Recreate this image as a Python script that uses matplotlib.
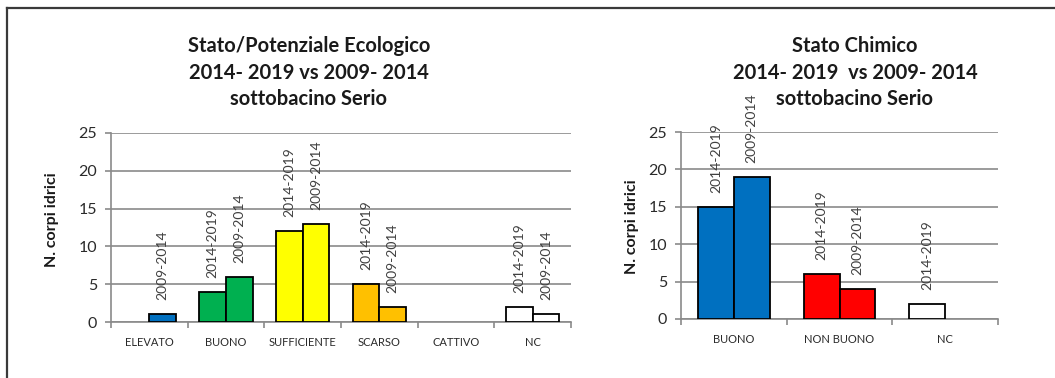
import matplotlib
matplotlib.use("Agg")
import matplotlib.pyplot as plt
from matplotlib.lines import Line2D
import numpy as np

plt.rcParams['font.family'] = ['Lato', 'DejaVu Sans']

# ---- data ----
eco_categories = ["ELEVATO", "BUONO", "SUFFICIENTE", "SCARSO", "CATTIVO", "NC"]
eco_2014_2019 = [0, 4, 12, 5, 0, 2]
eco_2009_2014 = [1, 6, 13, 2, 0, 1]
eco_colors = ["#0070C0", "#00B050", "#FFFF00", "#FFC000", "#FF0000", "#FFFFFF"]

chem_categories = ["BUONO", "NON BUONO", "NC"]
chem_2014_2019 = [15, 6, 2]
chem_2009_2014 = [19, 4, 0]
chem_colors = ["#0070C0", "#FF0000", "#FFFFFF"]

series_labels = ["2014-2019", "2009-2014"]
yticks = [0, 5, 10, 15, 20, 25]

eco_title = ["Stato/Potenziale Ecologico", "2014- 2019 vs 2009- 2014", "sottobacino Serio"]
chem_title = ["Stato Chimico", "2014- 2019  vs 2009- 2014", "sottobacino Serio"]
ylabel = "N. corpi idrici"

W, H = 1055, 378
fig = plt.figure(figsize=(W / 100, H / 100), dpi=100)

GRID = "#8a8a8a"


def px_axes(x0, x1, ytop, ybot):
    return fig.add_axes([x0 / W, (H - ybot) / H, (x1 - x0) / W, (ybot - ytop) / H])


def draw(ax, cats, s1, s2, colors, width):
    n = len(cats)
    x = np.arange(n)
    for vals, off, lab in ((s1, -width / 2, series_labels[0]), (s2, width / 2, series_labels[1])):
        idx = [i for i, v in enumerate(vals) if v > 0]
        bars = ax.bar(x[idx] + off, [vals[i] for i in idx], width=width,
                      color=[colors[i] for i in idx], edgecolor="black",
                      linewidth=1.3, zorder=3)
        for b, i in zip(bars, idx):
            ax.annotate(lab, (b.get_x() + b.get_width() / 2, vals[i]),
                        xytext=(0, 14), textcoords="offset pixels",
                        rotation=90, ha="center", va="bottom",
                        fontsize=10, color="#404040", zorder=4)
    ax.set_xlim(-0.5, n - 0.5)
    ax.set_ylim(0, 25)
    ax.set_yticks(yticks)
    ax.yaxis.grid(True, color=GRID, linewidth=1.2, zorder=0)
    ax.set_axisbelow(True)
    for s in ("top", "right"):
        ax.spines[s].set_visible(False)
    for s in ("left", "bottom"):
        ax.spines[s].set_color(GRID)
        ax.spines[s].set_linewidth(1.2)
    ax.set_xticks(x)
    ax.set_xticklabels(cats)
    ax.set_xticks(np.arange(n + 1) - 0.5, minor=True)
    ax.tick_params(axis="x", which="major", length=0, pad=11, labelsize=8, labelcolor="#2a2a2a")
    ax.tick_params(axis="x", which="minor", length=4, width=1.2, color=GRID)
    ax.tick_params(axis="y", length=4, width=1.2, color=GRID, pad=6, labelsize=11.5,
                   labelcolor="#2a2a2a")


ax1 = px_axes(111, 571, 133, 322)
draw(ax1, eco_categories, eco_2014_2019, eco_2009_2014, eco_colors, 0.35)
ax2 = px_axes(681, 998, 132, 319)
draw(ax2, chem_categories, chem_2014_2019, chem_2009_2014, chem_colors, 0.34)

title_rows = [46, 73, 99]
for xc, lines in ((309, eco_title), (855, chem_title)):
    for yc, line in zip(title_rows, lines):
        fig.text(xc / W, 1 - yc / H, line, ha="center", va="center", fontsize=14.5,
                 fontweight="bold", color="#1a1a1a")

fig.text(52 / W, 1 - 220 / H, ylabel, rotation=90, ha="center", va="center",
         fontsize=11.5, fontweight="bold", color="#1a1a1a")
fig.text(632 / W, 1 - 227 / H, ylabel, rotation=90, ha="center", va="center",
         fontsize=11.5, fontweight="bold", color="#1a1a1a")

# outer frame (left and top edges visible)
fig.add_artist(Line2D([7 / W, 7 / W], [0, 1 - 8 / H], color="#3a3a3a", linewidth=1.6))
fig.add_artist(Line2D([7 / W, 1], [1 - 8 / H, 1 - 8 / H], color="#3a3a3a", linewidth=1.6))

fig.savefig("out.png", dpi=100)
